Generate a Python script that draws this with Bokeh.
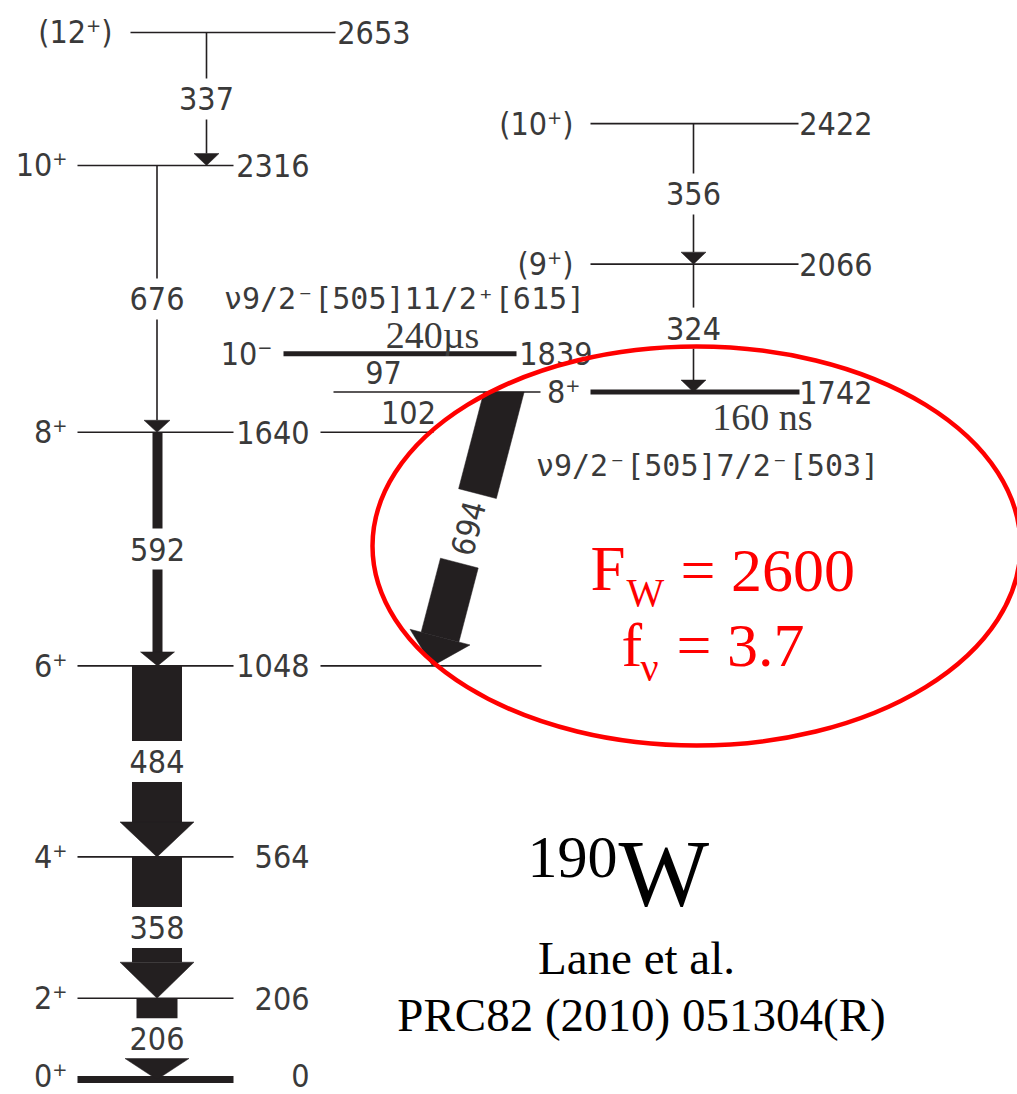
import math
from bokeh.plotting import figure
from bokeh.models import Range1d
from bokeh.core.properties import value
from bokeh.embed import file_html
from bokeh.resources import INLINE

# ---------------------------------------------------------------- data
# 190W level energies (keV) and spin-parity assignments
level_energy = [0, 206, 564, 1048, 1640, 2316, 2653, 1742, 2066, 2422, 1839]
level_spin = ["0⁺", "2⁺", "4⁺", "6⁺", "8⁺", "10⁺", "(12⁺)", "8⁺", "(9⁺)", "(10⁺)", "10⁻"]

# gamma transitions: initial level, final level, gamma energy (keV)
gamma_from = [2653, 2316, 1640, 1048, 564, 206, 2422, 2066, 1839, 1742, 1742]
gamma_to = [2316, 1640, 1048, 564, 206, 0, 2066, 1742, 1742, 1640, 1048]
gamma_energy = [337, 676, 592, 484, 358, 206, 356, 324, 97, 102, 694]

# isomeric states
isomer_level = [1839, 1742]
isomer_halflife = ["240µs", "160 ns"]
isomer_config = ["ν9/2⁻[505]11/2⁺[615]", "ν9/2⁻[505]7/2⁻[503]"]

# hindrance of the 694 keV isomeric branch
hindrance_fw = "2600"
reduced_hindrance = "3.7"
nucleus_mass = "190"
nucleus_element = "W"
citation = ["Lane et al.", "PRC82 (2010) 051304(R)"]

# ---------------------------------------------------------------- layout
WIDTH, HEIGHT = 1017, 1094
PX_PER_KEV = 0.39465          # vertical scale of the scheme
GROUND_ROW = 1079             # screen row of the ground state


def kev(pixels):
    """vertical screen distance expressed in keV"""
    return pixels / PX_PER_KEV


def row(e):
    return GROUND_ROW - PX_PER_KEV * e


def energy(r):
    return (GROUND_ROW - r) / PX_PER_KEV


GSB = dict(x0=77, x1=233, lw=1.6, spin_x=67, en_x=309, dy=0)
level_style = {
    # ground-state labels nudged up so they stay inside the canvas
    0: dict(GSB, lw=7, dy=4),
    206: GSB, 564: GSB, 1048: GSB, 1640: GSB, 2316: GSB,
    2653: dict(x0=130, x1=335, lw=1.6, spin_x=112, en_x=410, dy=0),
    1742: dict(x0=590, x1=799, lw=5, spin_x=580, en_x=872, dy=0),
    2066: dict(x0=590, x1=798, lw=1.6, spin_x=573, en_x=872, dy=0),
    2422: dict(x0=590, x1=798, lw=1.6, spin_x=573, en_x=872, dy=0),
    1839: dict(x0=283, x1=516, lw=5, spin_x=272, en_x=592, dy=0),
}
# thin connecting lines that carry a level across the scheme
level_extension = {1640: (320, 433), 1048: (320, 541), 1742: (333, 540)}

vertical_style = {
    337: dict(x=206, bar=1.6, head_w=25, head_h=12),
    676: dict(x=156.5, bar=1.6, head_w=26, head_h=12),
    592: dict(x=157, bar=10, head_w=34, head_h=14),
    484: dict(x=156.5, bar=50, head_w=74, head_h=35),
    358: dict(x=156.5, bar=50, head_w=74, head_h=36),
    206: dict(x=156.5, bar=41, head_w=64, head_h=21),
    356: dict(x=693, bar=1.6, head_w=25, head_h=12),
    324: dict(x=693, bar=1.6, head_w=25, head_h=12),
}
label_only_x = {97: 383, 102: 408}
diagonal_style = {694: dict(x_top=503.5, x_tip=432, half=19.5, gap=(105, 176.8),
                            head_at=253.3, head_half=31)}
LABEL_GAP = 20.5

INK = "#231f20"
TEXT = "#3a3a3a"
RED = "#ff0000"
SANS = "'DejaVu Sans Condensed', 'DejaVu Sans', sans-serif"
NUM = 32
MONO = "'DejaVu Sans Mono', monospace"
SERIF = "'Liberation Serif', 'Times New Roman', serif"

p = figure(width=WIDTH, height=HEIGHT,
           x_range=Range1d(0, WIDTH),
           y_range=Range1d(energy(HEIGHT), energy(0)),
           output_backend="svg", toolbar_location=None,
           x_axis_location=None, y_axis_location=None,
           min_border=0, outline_line_color=None)
p.grid.visible = False
p.background_fill_color = "white"
p.border_fill_color = "white"


def label(x, y, txt, size, font=SANS, align="center", color=TEXT, angle=0.0):
    p.text(x=[x], y=[y], text=[txt], text_font=value(font),
           text_font_size=f"{size}px", text_align=align,
           text_baseline="middle", text_color=color, angle=angle)


def serif_label(x, base_row, txt, size, align="left", color="black"):
    """serif text placed by the screen row of its baseline"""
    label(x, energy(base_row - 0.335 * size), txt, size, font=SERIF,
          align=align, color=color)


# ---------------------------------------------------------------- levels
for e, spin in zip(level_energy, level_spin):
    st = level_style[e]
    p.segment(x0=[st["x0"]], y0=[e], x1=[st["x1"]], y1=[e],
              line_width=st["lw"], line_color=INK)
    if e in level_extension:
        a, b = level_extension[e]
        p.segment(x0=[a], y0=[e], x1=[b], y1=[e], line_width=1.6, line_color=INK)
    ly = e + kev(st["dy"])
    label(st["spin_x"], ly, spin, NUM, align="right")
    label(st["en_x"], ly, str(e), NUM, align="right")

# ---------------------------------------------------------------- gammas
gap = kev(LABEL_GAP)
for e_i, e_f, eg in zip(gamma_from, gamma_to, gamma_energy):
    mid = (e_i + e_f) / 2
    if eg in vertical_style:
        st = vertical_style[eg]
        x, w = st["x"], st["bar"]
        head_base = e_f + kev(st["head_h"])
        for top, bot in [(e_i, mid + gap), (mid - gap, head_base)]:
            if top <= bot:
                continue
            if w < 3:
                p.segment(x0=[x], y0=[top], x1=[x], y1=[bot],
                          line_width=w, line_color=INK)
            else:
                p.quad(left=[x - w / 2], right=[x + w / 2], top=[top],
                       bottom=[bot], fill_color=INK, line_color=None)
        hw = st["head_w"] / 2
        p.patches(xs=[[x - hw, x + hw, x]], ys=[[head_base, head_base, e_f]],
                  fill_color=INK, line_color=INK, line_width=0.5)
        label(x, mid, str(eg), NUM)
    elif eg in label_only_x:
        label(label_only_x[eg], mid, str(eg), NUM)
    elif eg in diagonal_style:
        st = diagonal_style[eg]
        tx, ty = st["x_top"], row(e_i)
        bx, by = st["x_tip"], row(e_f)
        L = math.hypot(bx - tx, by - ty)
        ux, uy = (bx - tx) / L, (by - ty) / L
        nx, ny = uy, -ux
        h = st["half"]

        def at(s, off):
            return (tx + ux * s + nx * off, ty + uy * s + ny * off)

        def cut_top(off):
            px_, py_ = at(0, off)
            t = (ty - py_) / uy
            return (px_ + ux * t, py_ + uy * t)

        s0, s1 = st["gap"]
        s2 = st["head_at"]
        polys = [
            [cut_top(-h), cut_top(h), at(s0, h), at(s0, -h)],
            [at(s1, -h), at(s1, h), at(s2, h), at(s2, -h)],
            [at(s2, -st["head_half"]), at(s2, st["head_half"]), (bx, by)],
        ]
        p.patches(xs=[[q[0] for q in poly] for poly in polys],
                  ys=[[energy(q[1]) for q in poly] for poly in polys],
                  fill_color=INK, line_color=INK, line_width=0.5)
        cx, cy = at((s0 + s1) / 2, 0)
        # reads from the arrow tip upwards along the arrow
        label(cx, energy(cy), str(eg), NUM, angle=math.atan2(uy, -ux))

# ---------------------------------------------------------------- isomers
label(432, isomer_level[0] + kev(19), isomer_halflife[0], 38, font=SERIF)
label(762, isomer_level[1] - kev(25), isomer_halflife[1], 38, font=SERIF)
label(404, isomer_level[0] + kev(55), isomer_config[0], 30, font=MONO)
label(707, isomer_level[1] - kev(73), isomer_config[1], 30, font=MONO)

# ---------------------------------------------------------------- hindrance
p.ellipse(x=[696], y=[energy(545.5)], width=[648], height=[kev(399)],
          fill_color=None, line_color=RED, line_width=4.5)
serif_label(590, 590, "F", 63, color=RED)
serif_label(626, 605, "W", 40, color=RED)
serif_label(680, 590, "= " + hindrance_fw, 62, color=RED)
serif_label(621, 665, "f", 62, color=RED)
serif_label(640, 680, "ν", 40, color=RED)
serif_label(676, 665, "= " + reduced_hindrance, 62, color=RED)

# ---------------------------------------------------------------- nucleus
serif_label(527, 877, nucleus_mass, 60)
serif_label(618, 905, nucleus_element, 96)
serif_label(636, 973, citation[0], 47, align="center")
serif_label(641, 1030, citation[1], 47, align="center")

open("out.html", "w").write(file_html(p, INLINE))
